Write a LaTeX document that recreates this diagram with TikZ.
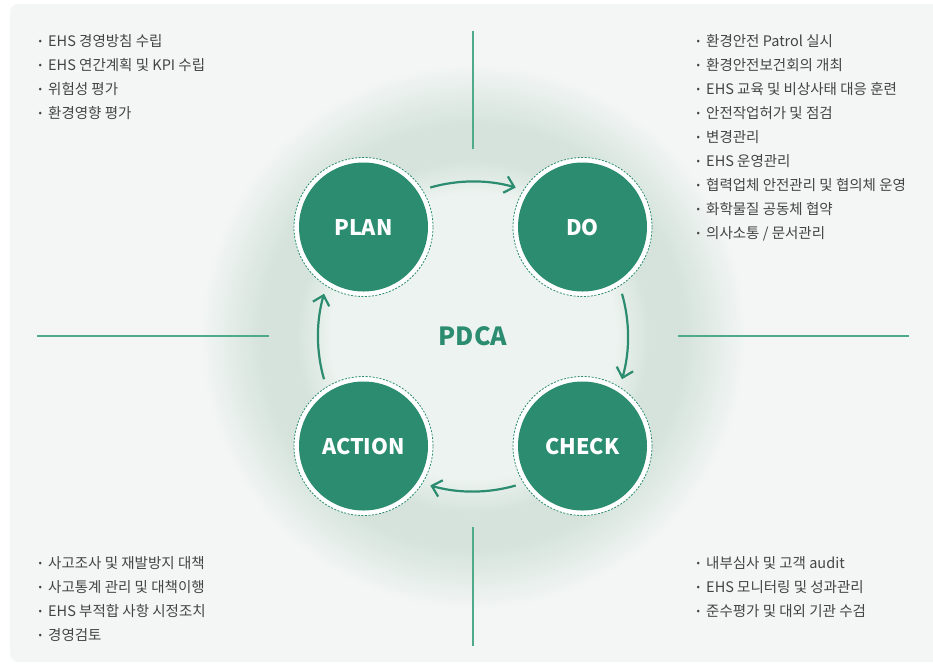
\documentclass[tikz,border=0pt]{standalone}
\usepackage{fontspec}
\setmainfont{Noto Sans CJK KR}
\usepackage{xcolor}
\usepackage{tikz}
\usetikzlibrary{arrows.meta}

\definecolor{pdcagreen}{HTML}{2B8C6F}
\definecolor{linegreen}{HTML}{4FAA8A}
\definecolor{bgc}{HTML}{F3F6F5}
\definecolor{glowin}{HTML}{EDF3F0}
\definecolor{glowmid}{HTML}{D5E3DC}
\definecolor{itemgray}{HTML}{444444}

% soft halo behind the cycle (the path edge sits at 25bp)
\pgfdeclareradialshading{pdcaglow}{\pgfpoint{0bp}{0bp}}{%
    color(0bp)=(glowin); color(12.5bp)=(glowin); color(15.5bp)=(glowmid);
    color(18.5bp)=(glowmid); color(24bp)=(bgc); color(50bp)=(bgc)}

\newcommand{\dotmark}{\makebox[16pt][c]{\raisebox{2pt}{\fontsize{10}{10}\selectfont •}}}

\begin{document}
\begin{tikzpicture}[
    % GLOBAL CFG
    x=1pt, y=1pt,
    font=\fontsize{14.5}{24}\selectfont,
    >={Straight Barb[length=9pt,width=17pt]},
    % Styles
    ring/.style={% For the dashed white halo
        circle,
        draw=pdcagreen,
        fill=white,
        line width=.8pt,
        dash pattern=on 2pt off 1.5pt,
        minimum size=139pt,
        inner sep=0pt,
        },
    stage/.style={% For the green discs
        circle,
        fill=pdcagreen,
        minimum size=129pt,
        inner sep=0pt,
        text=white,
        font=\bfseries\fontsize{21.5}{21.5}\selectfont,
        },
    item/.style={% For the bullet lines
        anchor=west,
        inner sep=0pt,
        text height=11pt,
        text depth=0pt,
        text=itemgray,
        },
    divider/.style={% Thin separating lines
        linegreen,
        line width=1.5pt,
        },
    ArrowC1/.style={% Arrows of the cycle
        ->,
        pdcagreen,
        line width=2.2pt,
        },
    ]

\useasboundingbox (0,0) rectangle (933,-665);

% Background
\fill[bgc, rounded corners=8pt] (10,-4) rectangle (950,-662);
\shade[shading=pdcaglow] (473,-336.5) circle[radius=285pt];

% Dividers
\draw[divider] (473,-31) -- (473,-149);
\draw[divider] (473,-527) -- (473,-646);
\draw[divider] (37,-336) -- (269,-336);
\draw[divider] (678,-336) -- (909,-336);

% The four stages
\foreach \n/\t/\x/\y in {plan/PLAN/363.5/227, do/DO/582.5/227, check/CHECK/582.5/446, action/ACTION/363.5/446}{
    \node[ring] (\n ring) at (\x,-\y) {};
    \node[stage] (\n) at (\x,-\y) {\t};
}

\node[text=pdcagreen, font=\bfseries\fontsize{25}{25}\selectfont] (pdca) at (473,-336.5) {PDCA};

% Arrows round the centre
\foreach \a in {135,45,-45,-135}
    \draw[ArrowC1] ([shift={(\a-29:155pt)}]pdca.center) arc[start angle=\a-29, end angle=\a-61, radius=155pt];

% Lists
\foreach \t [count=\i] in {EHS 경영방침 수립, EHS 연간계획 및 KPI 수립, 위험성 평가, 환경영향 평가}
    \node[item] (plan item\i) at (32,-16.5-24*\i) {\dotmark\t};
\foreach \t [count=\i] in {환경안전 Patrol 실시, 환경안전보건회의 개최, EHS 교육 및 비상사태 대응 훈련, 안전작업허가 및 점검, 변경관리, EHS 운영관리, 협력업체 안전관리 및 협의체 운영, 화학물질 공동체 협약, 의사소통 / 문서관리}
    \node[item] (do item\i) at (690,-16.5-24*\i) {\dotmark\t};
\foreach \t [count=\i] in {사고조사 및 재발방지 대책, 사고통계 관리 및 대책이행, EHS 부적합 사항 시정조치, 경영검토}
    \node[item] (action item\i) at (32,-538.7-24*\i) {\dotmark\t};
\foreach \t [count=\i] in {내부심사 및 고객 audit, EHS 모니터링 및 성과관리, 준수평가 및 대외 기관 수검}
    \node[item] (check item\i) at (690,-538.7-24*\i) {\dotmark\t};

\end{tikzpicture}
\end{document}
